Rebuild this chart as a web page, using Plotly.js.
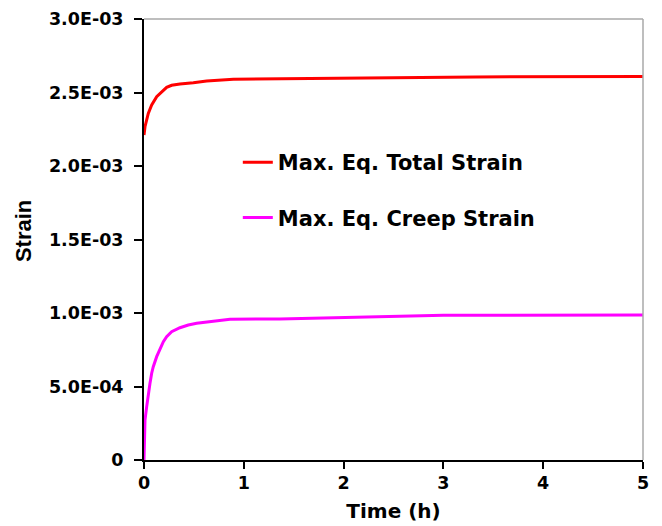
<!DOCTYPE html>
<html>
<head>
<meta charset="utf-8">
<script src="https://cdn.plot.ly/plotly-3.0.1.min.js"></script>
<style>
  html, body { margin: 0; padding: 0; background: #ffffff; }
  #chart { width: 662px; height: 526px; }
</style>
</head>
<body>
<div id="chart"></div>
<script>
// Maximum equivalent total strain vs. time (h)
const timeTotal = [0, 0.01, 0.043, 0.077, 0.127, 0.177, 0.227, 0.277, 0.36, 0.494, 0.628, 0.895, 1.36, 1.74, 2.5, 3.32, 4.2, 5.0];
const totalStrain = [2.211e-3, 2.267e-3, 2.358e-3, 2.415e-3, 2.472e-3, 2.506e-3, 2.535e-3, 2.549e-3, 2.558e-3, 2.567e-3, 2.578e-3, 2.590e-3, 2.592e-3, 2.597e-3, 2.601e-3, 2.606e-3, 2.608e-3, 2.609e-3];

// Maximum equivalent creep strain vs. time (h)
const timeCreep = [0, 0.007, 0.01, 0.027, 0.043, 0.06, 0.077, 0.093, 0.127, 0.16, 0.194, 0.227, 0.277, 0.36, 0.444, 0.528, 0.695, 0.862, 1.36, 1.78, 2.4, 3.0, 5.0];
const creepStrain = [0, 0.136e-3, 0.272e-3, 0.363e-3, 0.454e-3, 0.522e-3, 0.590e-3, 0.635e-3, 0.703e-3, 0.760e-3, 0.805e-3, 0.839e-3, 0.873e-3, 0.900e-3, 0.918e-3, 0.930e-3, 0.946e-3, 0.957e-3, 0.960e-3, 0.965e-3, 0.975e-3, 0.984e-3, 0.987e-3];

const seriesNames = ['Max. Eq. Total Strain', 'Max. Eq. Creep Strain'];
const seriesColors = ['#ff0000', '#ff00ff'];

// Axis ticks
const xTickVals = [0, 1, 2, 3, 4, 5];
const yTickVals = [0, 0.5e-3, 1.0e-3, 1.5e-3, 2.0e-3, 2.5e-3, 3.0e-3];
const yTickText = ['0', '5.0E-04', '1.0E-03', '1.5E-03', '2.0E-03', '2.5E-03', '3.0E-03'];

const wideFont = 'DejaVu Sans, Verdana, sans-serif';
const arialFont = 'Liberation Sans, Arial, sans-serif';

const traces = [
  {
    x: timeTotal, y: totalStrain, name: seriesNames[0],
    type: 'scatter', mode: 'lines', legendgroup: 'total',
    line: { color: seriesColors[0], width: 3 }
  },
  {
    x: timeCreep, y: creepStrain, name: seriesNames[1],
    type: 'scatter', mode: 'lines', legendgroup: 'creep',
    line: { color: seriesColors[1], width: 3 }
  }
];

const layout = {
  width: 662, height: 526,
  margin: { l: 144, r: 19, t: 19, b: 66, pad: 0 },
  paper_bgcolor: '#ffffff', plot_bgcolor: '#ffffff',
  showlegend: true,
  legend: {
    x: 0.188, y: 0.721, xanchor: 'left', yanchor: 'top',
    bgcolor: 'rgba(0,0,0,0)', borderwidth: 0,
    traceorder: 'grouped', tracegroupgap: 25, itemwidth: 30,
    font: { family: wideFont, size: 21, color: '#000000', weight: 'bold' }
  },
  xaxis: {
    range: [0, 5], tickvals: xTickVals, ticktext: xTickVals.map(String),
    showgrid: false, zeroline: false,
    showline: true, linecolor: '#000000', linewidth: 2,
    ticks: 'outside', ticklen: 7, tickwidth: 2, tickcolor: '#000000',
    ticklabelstandoff: -1,
    tickfont: { family: wideFont, size: 17.5, color: '#000000', weight: 'bold' },
    title: { text: 'Time (h)', standoff: 12,
      font: { family: wideFont, size: 20, color: '#000000', weight: 'bold' } }
  },
  yaxis: {
    range: [0, 3.0e-3], tickvals: yTickVals, ticktext: yTickText,
    showgrid: false, zeroline: false,
    showline: true, linecolor: '#000000', linewidth: 2,
    ticks: 'outside', ticklen: 8, tickwidth: 2, tickcolor: '#000000',
    ticklabelstandoff: 7,
    tickfont: { family: wideFont, size: 17.5, color: '#000000', weight: 'bold' }
  },
  annotations: [
    { text: 'Strain', xref: 'paper', yref: 'paper', x: -0.2425, y: 0.519,
      xanchor: 'center', yanchor: 'middle', textangle: -90, showarrow: false,
      font: { family: arialFont, size: 22, color: '#000000', weight: 'bold' } }
  ],
  shapes: [
    { type: 'line', xref: 'paper', yref: 'paper', x0: 0, x1: 1, y0: 1, y1: 1,
      line: { color: '#a8a8a8', width: 1.5 } },
    { type: 'line', xref: 'paper', yref: 'paper', x0: 1, x1: 1, y0: 0, y1: 1,
      line: { color: '#a8a8a8', width: 1.5 } }
  ]
};

Plotly.newPlot('chart', traces, layout, { displayModeBar: false, staticPlot: true });
</script>
</body>
</html>
